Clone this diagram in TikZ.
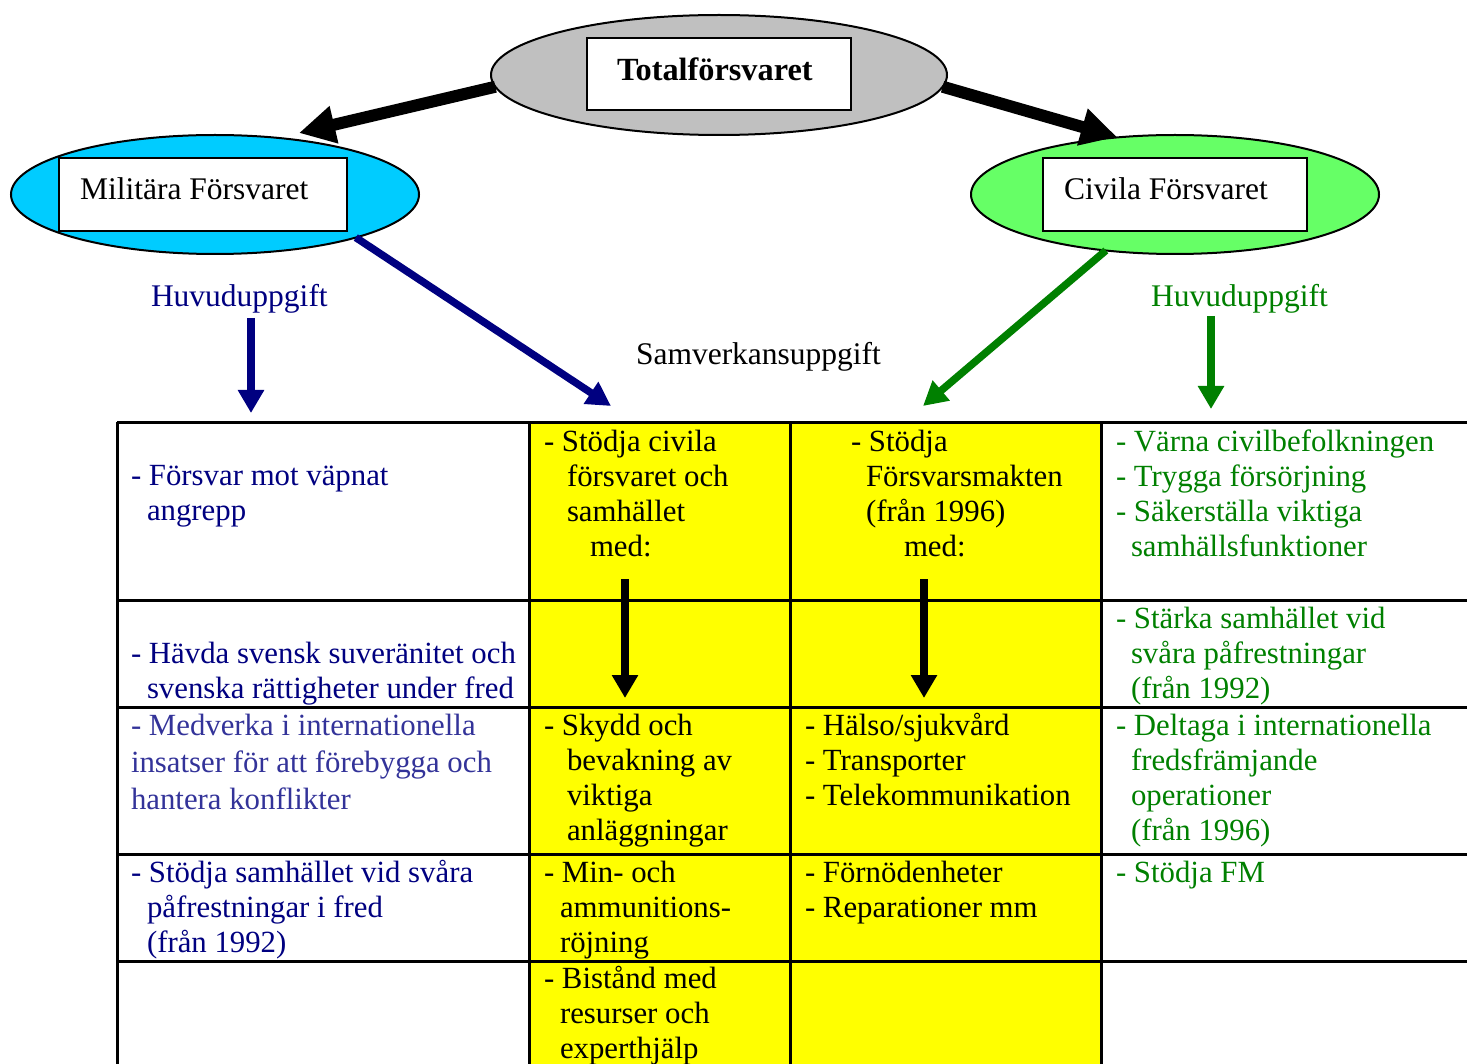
\documentclass[tikz,border=0pt]{standalone}
\usepackage{fontspec}
\setmainfont{Liberation Serif}
\usetikzlibrary{arrows.meta,shapes.geometric}
\definecolor{navytext}{HTML}{000080}
\definecolor{intltext}{HTML}{333399}
\definecolor{civgreen}{HTML}{008000}
\definecolor{milfill}{HTML}{00CCFF}
\definecolor{civfill}{HTML}{66FF66}
\definecolor{totfill}{HTML}{C0C0C0}
\definecolor{cellyellow}{HTML}{FFFF00}
\setlength{\lineskiplimit}{-100pt}
\newcommand{\cellstrut}{\rule{0pt}{30pt}}
\newcommand{\ind}[1]{\hspace*{#1pt}}
\begin{document}
\begin{tikzpicture}[x=1pt,y=-1pt,
  every node/.style={inner sep=0pt, outer sep=0pt},
  oval/.style={ellipse, draw=black, line width=2pt},
  namebox/.style={rectangle, draw=black, line width=2pt, fill=white},
  heading/.style={anchor=base west, font=\fontsize{31.5}{35}\selectfont},
  cell/.style={anchor=north west, align=left, font=\fontsize{30.8}{35}\selectfont},
  grid/.style={line width=3pt},
  bigarrow/.style={line width=12pt, -{Triangle[length=36pt,width=36pt]}},
  midarrow/.style={line width=7.5pt, -{Triangle[length=24pt,width=25pt]}},
  downarrow/.style={line width=8.5pt, -{Triangle[length=23pt,width=25pt]}}]
\useasboundingbox (0,0) rectangle (1467,1064);

% --- table: yellow cooperation columns and grid ---
\fill[cellyellow] (529,422) rectangle (1101,1064);
\foreach \gx in {117,529,790,1101}
  \draw[grid] (\gx,422) -- (\gx,1064);
\foreach \gy in {422,600,707,854,961}
  \draw[grid] (117,\gy) -- (1467,\gy);

% --- top level ---
\node[oval, fill=totfill, minimum width=456pt, minimum height=120pt] (tot) at (719,75) {};
\node[namebox, minimum width=264pt, minimum height=72pt] (totbox) at (719,74) {};
\node[heading, font=\fontsize{32.3}{35}\selectfont\bfseries] (totlabel) at (617,81) {Totalförsvaret};

% --- military and civil defence ---
\node[oval, fill=milfill, minimum width=408pt, minimum height=119pt] (mil) at (215,194.5) {};
\node[namebox, minimum width=288pt, minimum height=73pt] (milbox) at (203,194.5) {};
\node[heading] (millabel) at (80,200) {Militära Försvaret};

\node[oval, fill=civfill, minimum width=408pt, minimum height=119pt] (civ) at (1175,194.5) {};
\node[namebox, minimum width=264pt, minimum height=73pt] (civbox) at (1175,194.5) {};
\node[heading] (civlabel) at (1064,200) {Civila Försvaret};

% --- labels between the ovals and the table ---
\node[heading, text=navytext] (milmain) at (151,307) {Huvuduppgift};
\node[heading, text=civgreen] (civmain) at (1151,307) {Huvuduppgift};
\node[heading] (coop) at (636,365) {Samverkansuppgift};

% --- connector end points ---
\coordinate (miltip) at (299,133);
\coordinate (civtip) at (1117,137);
\coordinate (milcooptip) at (611,406);
\coordinate (civcooptip) at (923,406);
\coordinate (milmaintop) at (251,318);
\coordinate (milmaintip) at (251,413);
\coordinate (civmaintop) at (1211,316);
\coordinate (civmaintip) at (1211,409);
\coordinate (coopAtop) at (625,579);
\coordinate (coopAtip) at (625,698);
\coordinate (coopBtop) at (924,579);
\coordinate (coopBtip) at (924,698);

% --- connectors ---
\draw[bigarrow] (tot.183) -- (miltip);
\draw[bigarrow] (tot.357) -- (civtip);
\draw[midarrow, navytext] (mil.343) -- (milcooptip);
\draw[midarrow, civgreen] (civ.219) -- (civcooptip);
\draw[downarrow, navytext] (milmaintop) -- (milmaintip);
\draw[downarrow, civgreen] (civmaintop) -- (civmaintip);
\draw[downarrow, black] (coopAtop) -- (coopAtip);
\draw[downarrow, black] (coopBtop) -- (coopBtip);

% --- row 1 ---
\node[cell, text=navytext] (m1) at (131,455) {\cellstrut- Försvar mot väpnat\\\ind{16}angrepp};
\node[cell] (a1) at (544,421) {\cellstrut- Stödja civila\\\ind{23}försvaret och\\\ind{23}samhället\\\ind{46}med:};
\node[cell] (b1) at (851,421) {\cellstrut- Stödja\\\ind{15}Försvarsmakten\\\ind{15}(från 1996)\\\ind{53}med:};
\node[cell, text=civgreen] (c1) at (1116,421) {\cellstrut- Värna civilbefolkningen\\- Trygga försörjning\\- Säkerställa viktiga\\\ind{15}samhällsfunktioner};

% --- row 2 ---
\node[cell, text=navytext] (m2) at (131,633) {\cellstrut- Hävda svensk suveränitet och\\\ind{16}svenska rättigheter under fred};
\node[cell, text=civgreen] (c2) at (1116,598) {\cellstrut- Stärka samhället vid\\\ind{15}svåra påfrestningar\\\ind{15}(från 1992)};

% --- row 3 ---
\node[cell, text=intltext, font=\fontsize{30.8}{37}\selectfont] (m3) at (131,705) {\cellstrut- Medverka i internationella\\insatser för att förebygga och\\hantera konflikter};
\node[cell] (a3) at (544,705) {\cellstrut- Skydd och\\\ind{23}bevakning av\\\ind{23}viktiga\\\ind{23}anläggningar};
\node[cell] (b3) at (805,705) {\cellstrut- Hälso/sjukvård\\- Transporter\\- Telekommunikation};
\node[cell, text=civgreen] (c3) at (1116,705) {\cellstrut- Deltaga i internationella\\\ind{15}fredsfrämjande\\\ind{15}operationer\\\ind{15}(från 1996)};

% --- row 4 ---
\node[cell, text=navytext] (m4) at (131,852) {\cellstrut- Stödja samhället vid svåra\\\ind{16}påfrestningar i fred\\\ind{16}(från 1992)};
\node[cell] (a4) at (544,852) {\cellstrut- Min- och\\\ind{16}ammunitions-\\\ind{16}röjning};
\node[cell] (b4) at (805,852) {\cellstrut- Förnödenheter\\- Reparationer mm};
\node[cell, text=civgreen] (c4) at (1116,852) {\cellstrut- Stödja FM};

% --- row 5 ---
\node[cell] (a5) at (544,958) {\cellstrut- Bistånd med\\\ind{16}resurser och\\\ind{16}experthjälp};
\end{tikzpicture}
\end{document}
